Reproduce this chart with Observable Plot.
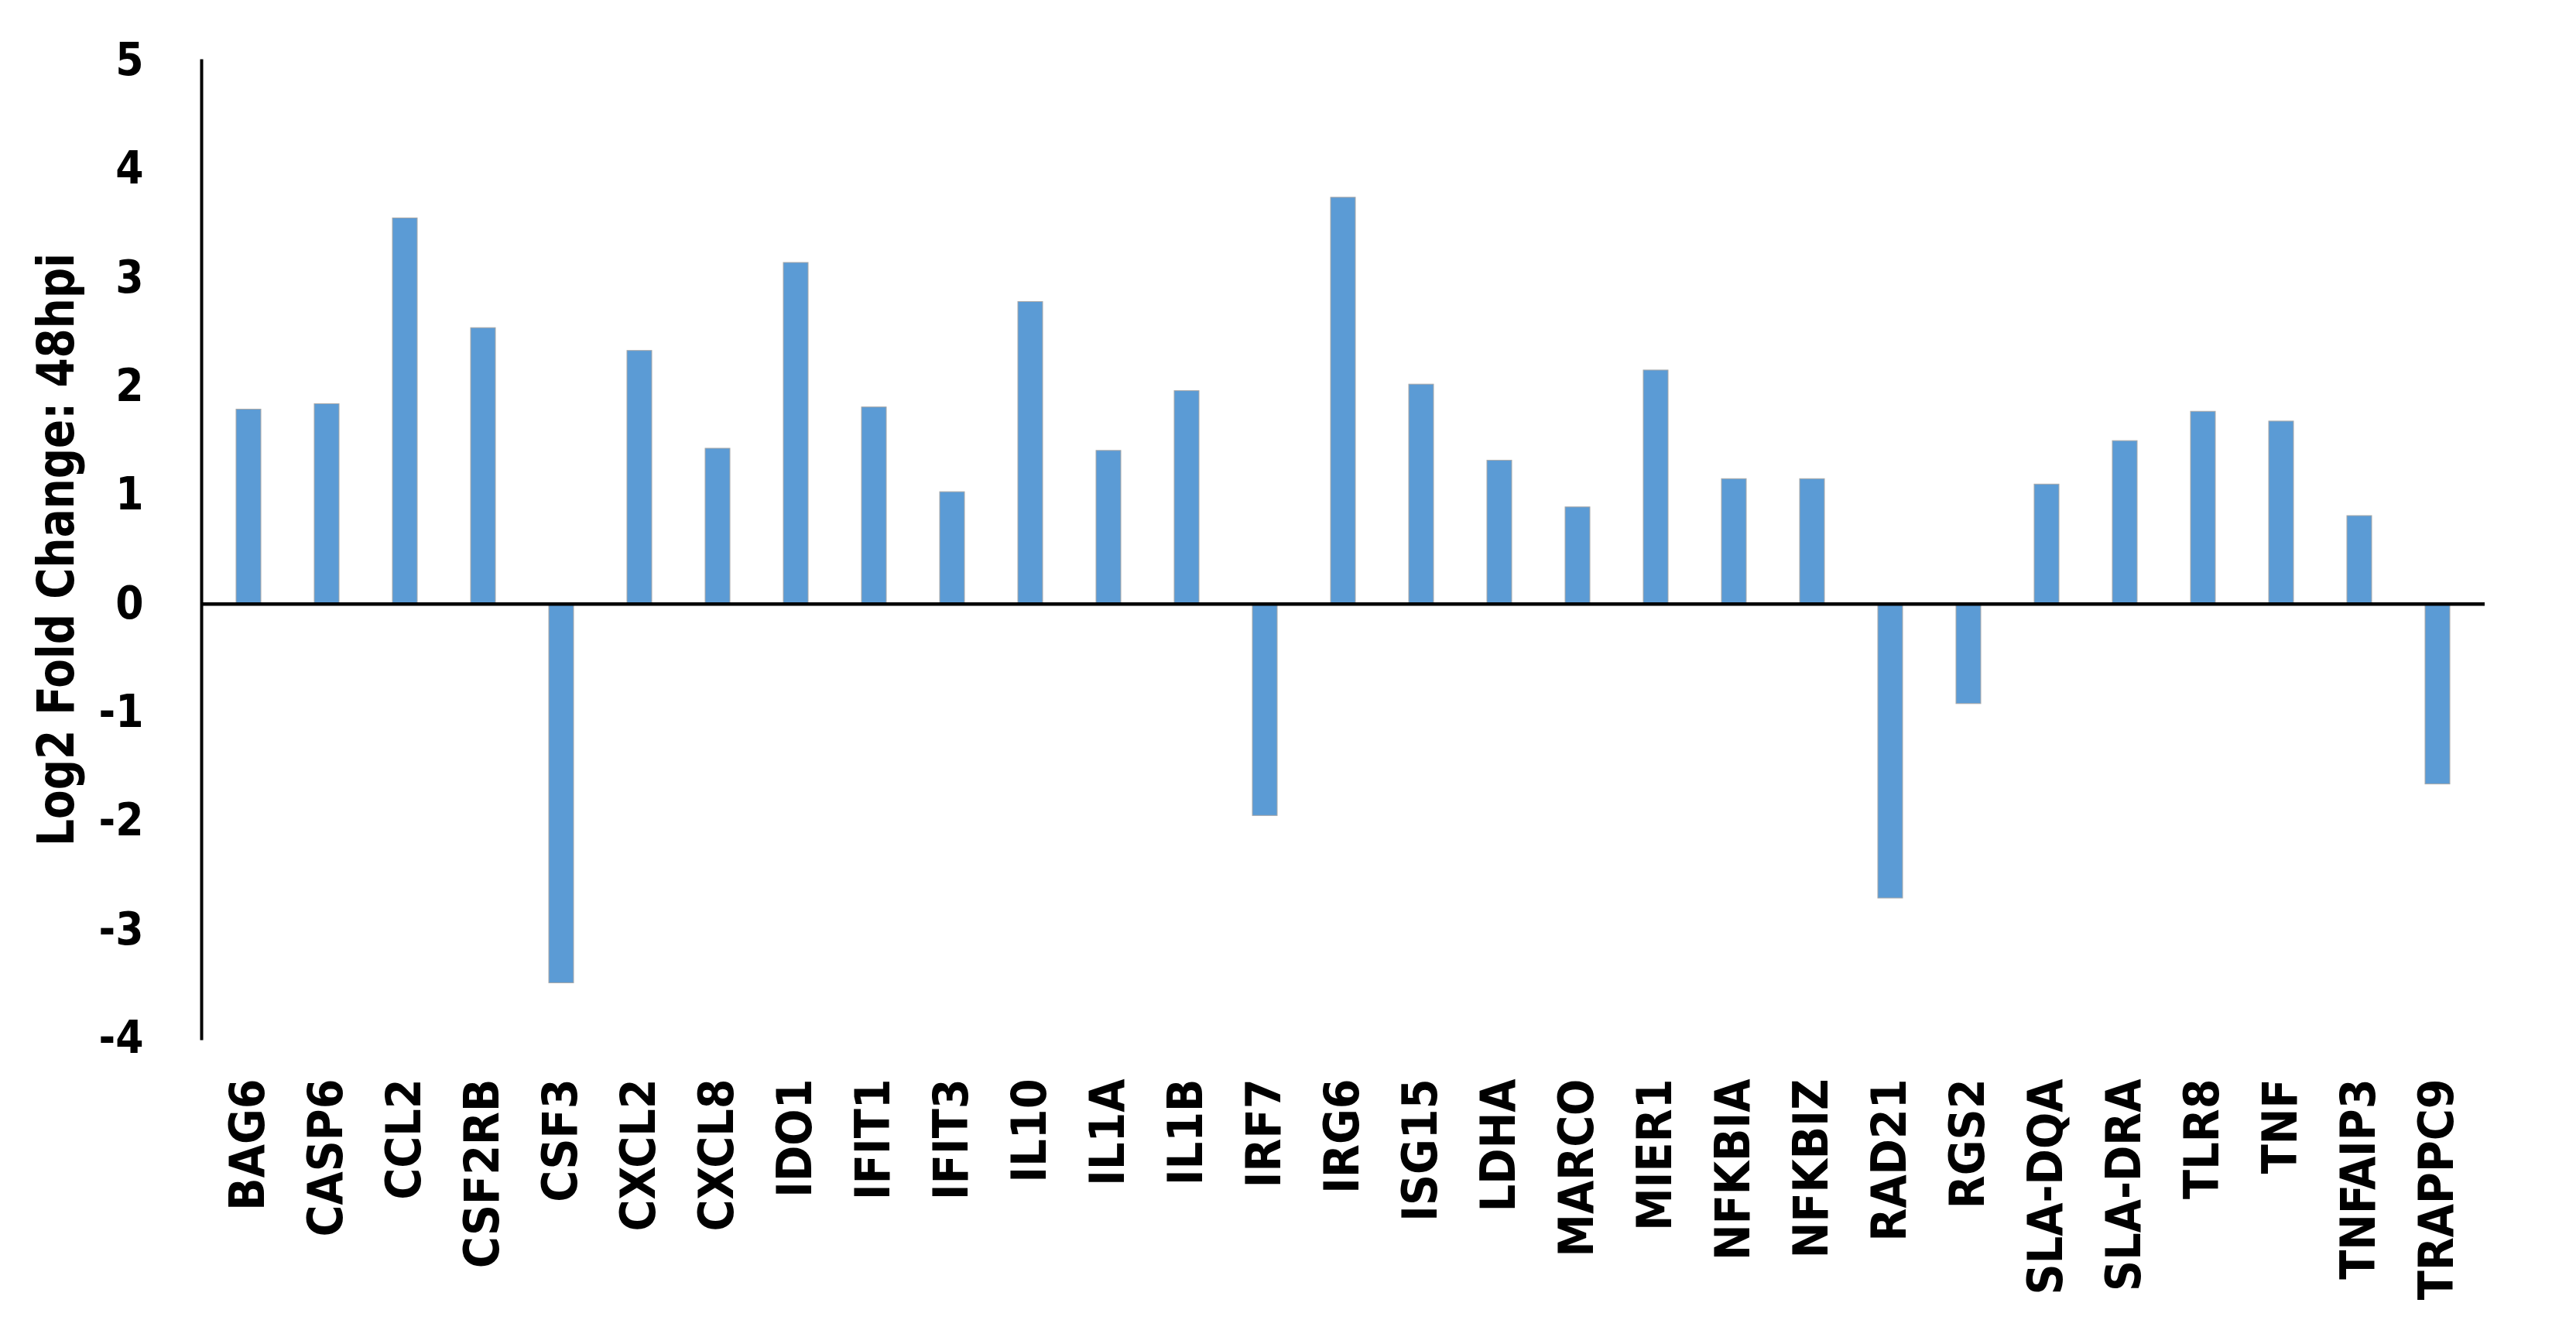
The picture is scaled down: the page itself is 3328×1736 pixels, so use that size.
<!DOCTYPE html>
<html>
<head>
<meta charset="utf-8">
<script src="https://cdn.jsdelivr.net/npm/d3@7"></script>
<script src="https://cdn.jsdelivr.net/npm/@observablehq/plot@0.6"></script>
<style>
  html, body { margin: 0; padding: 0; background: #ffffff; }
  #chart svg { display: block; }
</style>
</head>
<body>
<div id="chart"></div>
<script>
const genes = ["BAG6","CASP6","CCL2","CSF2RB","CSF3","CXCL2","CXCL8","IDO1","IFIT1","IFIT3","IL10","IL1A","IL1B","IRF7","IRG6","ISG15","LDHA","MARCO","MIER1","NFKBIA","NFKBIZ","RAD21","RGS2","SLA-DQA","SLA-DRA","TLR8","TNF","TNFAIP3","TRAPPC9"];
const log2fc = [1.79,1.84,3.55,2.54,-3.49,2.33,1.43,3.14,1.81,1.03,2.78,1.41,1.96,-1.95,3.74,2.02,1.32,0.89,2.15,1.15,1.15,-2.71,-0.92,1.10,1.50,1.77,1.68,0.81,-1.66];
const yTicks = [-4,-3,-2,-1,0,1,2,3,4,5];
const yLabel = "Log2 Fold Change: 48hpi";

const data = genes.map((g, i) => ({gene: g, value: log2fc[i]}));

const condensed = "'DejaVu Sans Condensed', 'DejaVu Sans', sans-serif";

const chart = Plot.plot({
  width: 3328,
  height: 1736,
  marginLeft: 260,
  marginRight: 118,
  marginTop: 78,
  marginBottom: 395,
  style: {background: "#ffffff", color: "#000000", overflow: "visible"},
  x: {domain: genes, paddingInner: 0.6865, paddingOuter: 0.343, align: 0.5},
  y: {domain: [-4, 5]},
  marks: [
    Plot.barY(data, {x: "gene", y: "value", fill: "#5B9BD5", stroke: "#a8a8a8", strokeWidth: 1}),
    Plot.ruleY([0], {stroke: "#000000", strokeWidth: 4.5}),
    Plot.frame({anchor: "left", stroke: "#000000", strokeWidth: 4}),
    Plot.axisY({
      ticks: yTicks,
      tickSize: 0,
      tickPadding: 75,
      tickFormat: d => d < 0 ? "-" + Math.abs(d) : String(d),
      fontSize: 58,
      fontWeight: "bold",
      fontFamily: condensed,
      label: yLabel,
      labelAnchor: "center",
      labelArrow: "none",
      labelOffset: 212
    }),
    Plot.axisX({
      anchor: "bottom",
      tickSize: 0,
      tickRotate: -90,
      tickPadding: 52,
      fontSize: 62,
      fontWeight: "bold",
      fontFamily: condensed,
      label: null
    })
  ]
});

document.getElementById("chart").appendChild(chart);

// style the y-axis title separately
const lab = d3.select(chart).selectAll('[aria-label="y-axis label"] text');
lab.attr("font-size", 66)
   .attr("font-weight", "bold")
   .attr("font-family", condensed)
   .attr("textLength", 766)
   .attr("lengthAdjust", "spacingAndGlyphs");
</script>
</body>
</html>
